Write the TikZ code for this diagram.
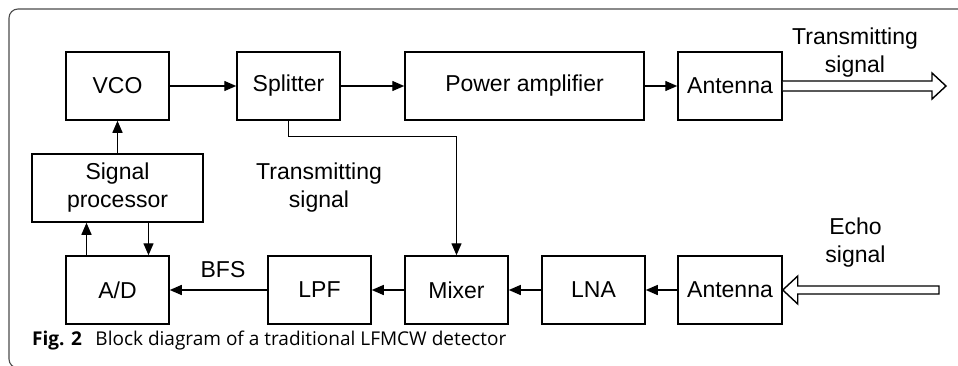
\documentclass[tikz,border=0pt]{standalone}
\usepackage{fontspec}
\setmainfont{Liberation Sans}
\newfontfamily\capfont{Open Sans}
\usetikzlibrary{arrows.meta,calc}
\begin{document}
\begin{tikzpicture}[x=1pt,y=-1pt,
  blk/.style={draw,line width=1.5pt,inner sep=0pt,minimum height=68pt,font=\fontsize{23}{28}\selectfont},
  lbl/.style={inner sep=0pt,align=center,font=\fontsize{23}{28}\selectfont},
  arr/.style={line width=1.4pt,-{Triangle[length=12pt,width=10pt]}},
  hollow/.style={draw,line width=1.4pt,fill=white,line join=miter},
  frame/.style={draw=black!70,line width=1.1pt,rounded corners=9pt}]
\useasboundingbox (0,0) rectangle (958,365);
\begin{scope}
\clip (0,0) rectangle (958,365);
\draw[frame] (970,9) -- (9,9) -- (9,368) -- (40,368);
\end{scope}
% blocks
\node[blk,minimum width=103pt] (vco) at (117.5,86) {VCO};
\node[blk,minimum width=103pt] (split) at (288.5,86) {Splitter};
\node[blk,minimum width=239pt] (pa) at (524.5,86) {Power amplifier};
\node[blk,minimum width=104pt] (antT) at (730,86) {Antenna};
\node[blk,minimum width=171pt,align=center] (sp) at (117.5,188) {Signal\\processor};
\node[blk,minimum width=103pt] (ad) at (117.5,290) {A/D};
\node[blk,minimum width=103pt] (lpf) at (319.5,290) {LPF};
\node[blk,minimum width=103pt] (mix) at (456.5,290) {Mixer};
\node[blk,minimum width=103pt] (lna) at (593.5,290) {LNA};
\node[blk,minimum width=104pt] (antR) at (730,290) {Antenna};
% labels
\node[lbl] (txlab) at (855,53) {Transmitting\\signal};
\node[lbl] (midlab) at (319,188) {Transmitting\\signal};
\node[lbl] (echolab) at (855.5,242.5) {Echo\\signal};
\node[lbl,anchor=base] (bfs) at (223,277) {BFS};
\node[anchor=base west,inner sep=0pt,font=\capfont\fontsize{19}{22}\selectfont] (cap) at (32,345.5) {\textbf{Fig. 2}\hspace{0.45em} Block diagram of a traditional LFMCW detector};
% connectors
\draw[arr] (vco) -- (split);
\draw[arr] (split) -- (pa);
\draw[arr] (pa) -- (antT);
\draw[arr] (sp) -- (vco);
\draw[arr] (split.south) -- ++(0,16) -| (mix.north);
\draw[arr] ([xshift=-31pt]ad.north) -- ([xshift=-31pt]ad.north |- sp.south);
\draw[arr] ([xshift=31pt]ad.north |- sp.south) -- ([xshift=31pt]ad.north);
\draw[arr] (lpf) -- (ad);
\draw[arr] (mix) -- (lpf);
\draw[arr] (lna) -- (mix);
\draw[arr] (antR) -- (lna);
% hollow arrows
\coordinate (txtip) at (946,86);
\coordinate (echotail) at (939,290);
\draw[hollow] ($(antT.east)+(0,-5)$) -- ($(txtip)+(-14,-5)$) -- ($(txtip)+(-14,-13)$) -- (txtip)
  -- ($(txtip)+(-14,13)$) -- ($(txtip)+(-14,5)$) -- ($(antT.east)+(0,5)$);
\draw[hollow] ($(echotail)+(0,-4)$) -- ($(antR.east)+(15,-4)$) -- ($(antR.east)+(15,-14)$) -- (antR.east)
  -- ($(antR.east)+(15,14)$) -- ($(antR.east)+(15,4)$) -- ($(echotail)+(0,4)$) -- cycle;
\end{tikzpicture}
\end{document}
